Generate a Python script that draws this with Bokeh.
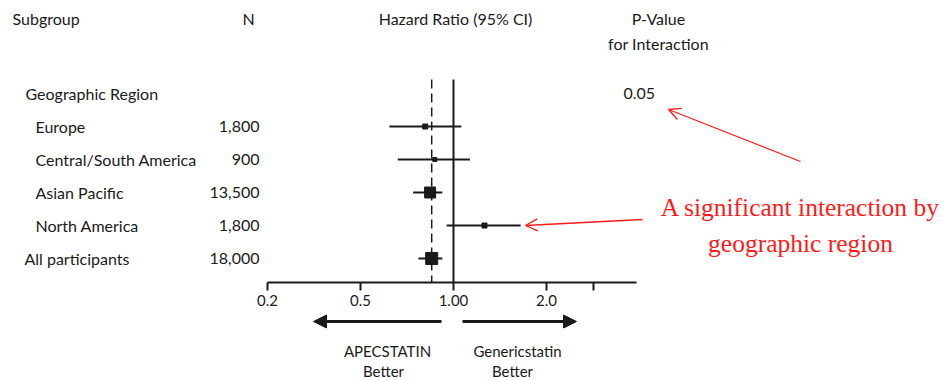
from bokeh.plotting import figure
from bokeh.models import ColumnDataSource, Range1d, LinearScale, FixedTicker, Arrow, OpenHead, NormalHead
from bokeh.layouts import column
from bokeh.embed import file_html
from bokeh.resources import INLINE
from bokeh.core.properties import value

# ---------------- data ----------------
group_title = "Geographic Region"
subgroups = ["Europe", "Central/South America", "Asian Pacific", "North America", "All participants"]
n_labels = ["1,800", "900", "13,500", "1,800", "18,000"]
hazard_ratio = [0.81, 0.87, 0.84, 1.26, 0.85]
ci_lower = [0.62, 0.66, 0.74, 0.95, 0.77]
ci_upper = [1.06, 1.13, 0.92, 1.65, 0.92]
p_interaction = "0.05"
reference_hr = 1.0
overall_hr = 0.85
tick_values = [0.25, 0.5, 1.0, 2.0, 2.83]
tick_labels = ["0.2", "0.5", "1.00", "2.0", ""]

# ---------------- layout / style ----------------
FONT = value("Lato")
SERIF = value("Liberation Serif")
INK = "#1a1a1a"
RED = "#ff1a1a"
W = 944
TOP_H = 282                          # page-y of the x axis line
PX_ONE, PX_DOUBLE = 453, 93          # page-x of HR = 1 and pixels per doubling
ROW0_Y, ROW_STEP = 93, 33            # page-y of first row and row spacing
AXIS_PANEL = 27
marker_sizes = [5, 4, 11, 5, 12]
label_x = [35, 35, 35, 35, 24]


def hr_at(px):
    return 2 ** ((px - PX_ONE) / PX_DOUBLE)


def row_at(py):
    return (py - ROW0_Y) / ROW_STEP


top = figure(frame_width=W, frame_height=TOP_H, x_axis_type="log",
             x_range=Range1d(hr_at(0), hr_at(W)),
             y_range=Range1d(row_at(TOP_H), row_at(0)),
             y_axis_location=None, toolbar_location=None, output_backend="svg",
             min_border=0, min_border_left=0, min_border_right=0, min_border_top=0,
             outline_line_color=None)
top.grid.visible = False
top.extra_x_ranges = {"px": Range1d(0, W)}
top.extra_x_scales = {"px": LinearScale()}
top.extra_y_ranges = {"py": Range1d(TOP_H, 0)}
top.extra_y_scales = {"py": LinearScale()}

ax = top.xaxis[0]
ax.ticker = FixedTicker(ticks=tick_values, minor_ticks=[])
ax.major_label_overrides = dict(zip(tick_values, tick_labels))
ax.bounds = (tick_values[0], 3.9)
ax.axis_line_width = 2
ax.axis_line_color = INK
ax.major_tick_line_width = 2
ax.major_tick_line_color = INK
ax.major_tick_out = 8
ax.major_tick_in = 0
ax.minor_tick_out = 0
ax.minor_tick_in = 0
ax.major_label_text_font = "Lato"
ax.major_label_text_font_size = "15px"
ax.major_label_text_color = INK
ax.major_label_standoff = 4

rows = list(range(1, len(subgroups) + 1))
src = ColumnDataSource(dict(row=rows, hr=hazard_ratio, lo=ci_lower, hi=ci_upper,
                            size=marker_sizes, label=subgroups, n=n_labels, lx=label_x))

# reference lines
top.segment(x0=[overall_hr], x1=[overall_hr], y0=[79], y1=[TOP_H], y_range_name="py",
            line_color=INK, line_width=1.5, line_dash="9 5")
top.segment(x0=[reference_hr], x1=[reference_hr], y0=[79], y1=[TOP_H], y_range_name="py",
            line_color=INK, line_width=2)

# CIs and point estimates
top.segment(x0="lo", x1="hi", y0="row", y1="row", source=src, line_color=INK, line_width=2)
top.scatter(x="hr", y="row", size="size", marker="square", source=src,
            fill_color=INK, line_color=INK)

# headers
top.text(x=[12], y=[18], text=["Subgroup"], x_range_name="px", y_range_name="py",
         text_font=FONT, text_font_size="16px", text_color=INK, text_baseline="middle")
top.text(x=[248, 455, 658, 658], y=[18, 18, 18, 43],
         text=["N", "Hazard Ratio (95% CI)", "P-Value", "for Interaction"],
         x_range_name="px", y_range_name="py", text_font=FONT, text_font_size="16px",
         text_color=INK, text_baseline="middle", text_align="center")

# row labels
top.text(x=[25], y=[0], text=[group_title], x_range_name="px", text_font=FONT,
         text_font_size="16px", text_color=INK, text_baseline="middle")
top.text(x=[623], y=[0], text=[p_interaction], x_range_name="px", text_font=FONT,
         text_font_size="16px", text_color=INK, text_baseline="middle")
top.text(x="lx", y="row", text="label", source=src, x_range_name="px", text_font=FONT,
         text_font_size="16px", text_color=INK, text_baseline="middle")
top.text(x=[259] * len(rows), y=rows, text=n_labels, x_range_name="px", text_font=FONT,
         text_font_size="16px", text_color=INK, text_baseline="middle", text_align="right")

# red annotation
top.text(x=[800, 800], y=[207, 243], text=["A significant interaction by", "geographic region"],
         x_range_name="px", y_range_name="py", text_font=SERIF, text_font_size="25.5px",
         text_color=RED, text_align="center", text_baseline="alphabetic")
top.add_layout(Arrow(end=OpenHead(size=12, line_color=RED, line_width=1.3),
                     x_start=800, y_start=161, x_end=668, y_end=109,
                     line_color=RED, line_width=1.3, x_range_name="px", y_range_name="py"))
top.add_layout(Arrow(end=OpenHead(size=12, line_color=RED, line_width=1.3),
                     x_start=642, y_start=219, x_end=525, y_end=225,
                     line_color=RED, line_width=1.3, x_range_name="px", y_range_name="py"))

# ---------------- bottom panel ----------------
BOT_TOP = TOP_H + AXIS_PANEL
BOT_H = 380 - BOT_TOP
bot = figure(frame_width=W, frame_height=BOT_H,
             x_range=Range1d(0, W), y_range=Range1d(380, BOT_TOP),
             x_axis_location=None, y_axis_location=None, toolbar_location=None,
             output_backend="svg", min_border=0, min_border_left=0, min_border_right=0,
             min_border_top=0, min_border_bottom=0, outline_line_color=None)
bot.grid.visible = False
bot.add_layout(Arrow(end=NormalHead(size=13, fill_color=INK, line_color=INK),
                     x_start=441, y_start=322, x_end=313, y_end=322,
                     line_color=INK, line_width=3))
bot.add_layout(Arrow(end=NormalHead(size=13, fill_color=INK, line_color=INK),
                     x_start=462, y_start=322, x_end=576, y_end=322,
                     line_color=INK, line_width=3))
bot.text(x=[387, 383, 517, 512], y=[351, 371, 351, 371],
         text=["APECSTATIN", "Better", "Genericstatin", "Better"],
         text_font=FONT, text_font_size="15px", text_color=INK,
         text_align="center", text_baseline="middle")

layout = column(top, bot)
open("out.html", "w").write(file_html(layout, INLINE))
